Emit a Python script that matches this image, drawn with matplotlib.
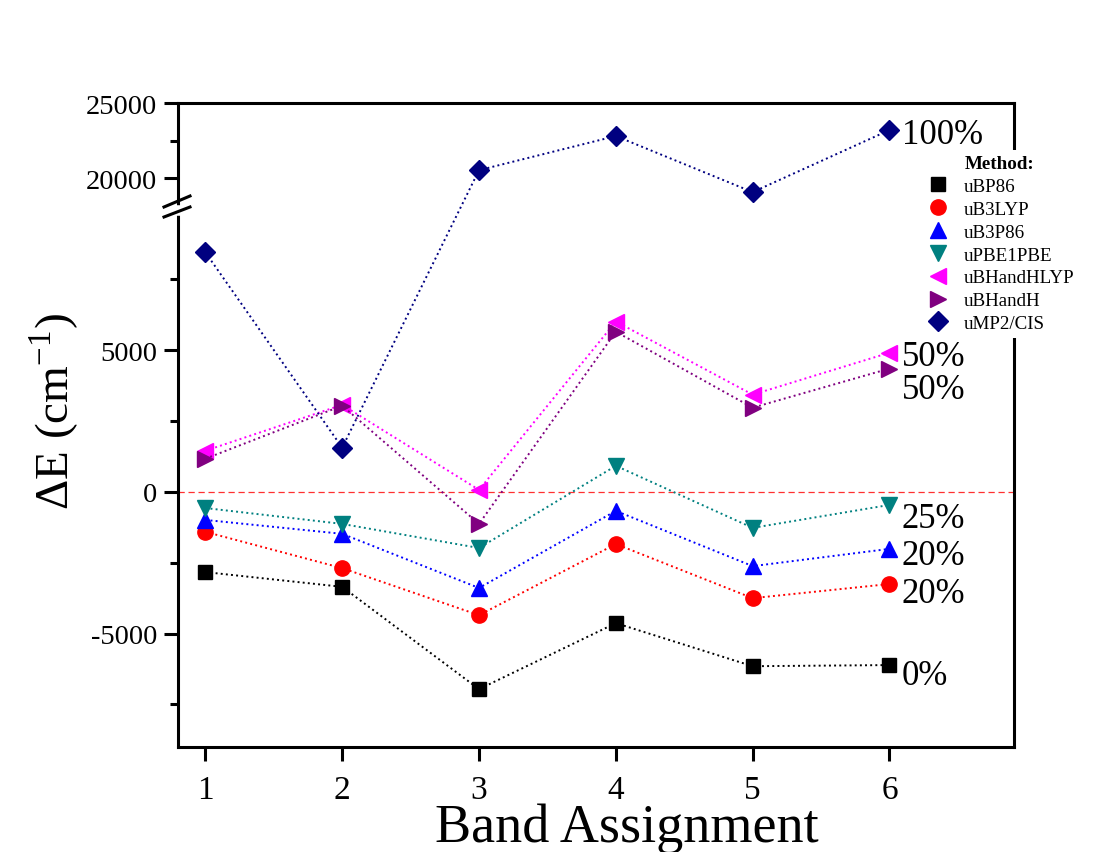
import numpy as np
import matplotlib
matplotlib.use("Agg")
import matplotlib.pyplot as plt

plt.rcParams['font.family'] = ['Liberation Serif', 'DejaVu Serif']
plt.rcParams['mathtext.fontset'] = 'custom'
plt.rcParams['mathtext.rm'] = 'Liberation Serif'

# %% Datos
bandas = [1, 2, 3, 4, 5, 6]
metodos = ['uBP86', 'uB3LYP', 'uB3P86', 'uPBE1PBE', 'uBHandHLYP', 'uBHandH', 'uMP2/CIS']
uBP86 = [-2830, -3350, -6960, -4630, -6150, -6110]
uB3LYP = [-1410, -2690, -4350, -1840, -3750, -3250]
uB3P86 = [-990, -1480, -3390, -670, -2620, -2010]
uPBE1PBE = [-570, -1130, -1980, 920, -1270, -460]
uBHandHLYP = [1450, 3070, 70, 6010, 3430, 4910]
uBHandH = [1170, 3040, -1130, 5650, 2970, 4350]
uMP2_CIS = [8450, 1560, 20530, 22800, 19070, 23200]

series = [uBP86, uB3LYP, uB3P86, uPBE1PBE, uBHandHLYP, uBHandH, uMP2_CIS]
colores = ['black', '#FF0000', '#0000FF', '#008080', '#FF00FF', '#800080', '#000080']
marcadores = ['s', 'o', '^', 'v', '<', '>', 'D']
tamanos = [9.5, 11, 11.5, 11.5, 11.5, 11.5, 10]

# porcentajes de intercambio HF (etiquetas a la derecha)
porc = ['0%', '20%', '20%', '25%', '50%', '50%', '100%']
porc_y = [-6470, -3570, -2230, -950, 3610, 4770, 22900]

# %% Escala con corte (10000 -> 18000)
B1, B2 = 10000., 18000.
r = 75 / 141.5
eps = 1e-3


def fwd(y):
    y = np.asarray(y, dtype=float)
    return np.where(y <= B1, y,
                    np.where(y >= B2, B1 + eps * (B2 - B1) + (y - B2) * r,
                             B1 + (y - B1) * eps))


def inv(t):
    t = np.asarray(t, dtype=float)
    T2 = B1 + eps * (B2 - B1)
    return np.where(t <= B1, t,
                    np.where(t >= T2, B2 + (t - T2) / r,
                             B1 + (t - B1) / eps))


# %% Figura
fig = plt.figure(figsize=(11.12, 8.53), dpi=100)
ax = fig.add_axes([178/1112, 1 - 748/853, (1014-178)/1112, (748-104)/853])
ax.set_yscale('function', functions=(fwd, inv))

ax.axhline(0, color='#FF3030', ls=(0, (5, 3)), lw=0.9, zorder=1)

for vals, c, m, ms, lab in zip(series, colores, marcadores, tamanos, metodos):
    ax.plot(bandas, vals, ls=':', lw=1.4, color=c, marker=m, ms=ms,
            mec=c, mfc=c, label=lab, zorder=3)

for t, y in zip(porc, porc_y):
    ax.text(6.09, y, t, fontsize=25, ha='left', va='center', zorder=7)

ax.set_xlim(0.8, 6.91)
ax.set_ylim(-9000, 25000)
ax.set_xticks(bandas)
ax.set_yticks([-5000, 0, 5000, 20000, 25000])
ax.set_yticks([-7500, -2500, 2500, 7500, 22500], minor=True)
ax.set_yticklabels(['-5000', '0', '5000', '20000', '25000'])

for s in ax.spines.values():
    s.set_linewidth(2.2)
ax.tick_params(axis='both', which='major', direction='out', length=10, width=2.2)
ax.tick_params(axis='y', which='minor', direction='out', length=6, width=2.2)
ax.tick_params(axis='x', labelsize=24, pad=10)
ax.tick_params(axis='y', labelsize=20.5, pad=5)

# marcas de corte en el eje izquierdo
trans = ax.get_yaxis_transform()
yb = fwd(B1)
ax.plot([0, 0], [yb - 150, yb + 180], transform=trans, color='white', lw=4,
        clip_on=False, zorder=4)
fig.add_artist(plt.Line2D([164/1112, 190/1112], [1 - 208/853, 1 - 197/853],
                          color='black', lw=2.2))
fig.add_artist(plt.Line2D([164/1112, 190/1112], [1 - 218/853, 1 - 208/853],
                          color='black', lw=2.2))

leg = ax.legend(loc='upper left', bbox_to_anchor=(911/1112, 1 - 141/853),
                bbox_transform=fig.transFigure, title='Method:', fontsize=13.7,
                title_fontproperties={'weight': 'bold', 'size': 13.7},
                frameon=True, facecolor='white', edgecolor='none', framealpha=1,
                handlelength=1.2, handletextpad=0.75, labelspacing=0.29,
                borderpad=0.3, markerscale=1.0)
leg.set_zorder(6)
for h in leg.legend_handles:
    h.set_linestyle('none')

fig.text(54/1112, 1 - 411/853, r'$\Delta$E (cm$^{\mathrm{-1}}$)', rotation=90,
         fontsize=34, ha='center', va='center')
fig.text(627/1112, 1 - 842/853, 'Band Assignment', fontsize=39,
         ha='center', va='baseline')

fig.savefig('out.png', dpi=100, facecolor='white')
